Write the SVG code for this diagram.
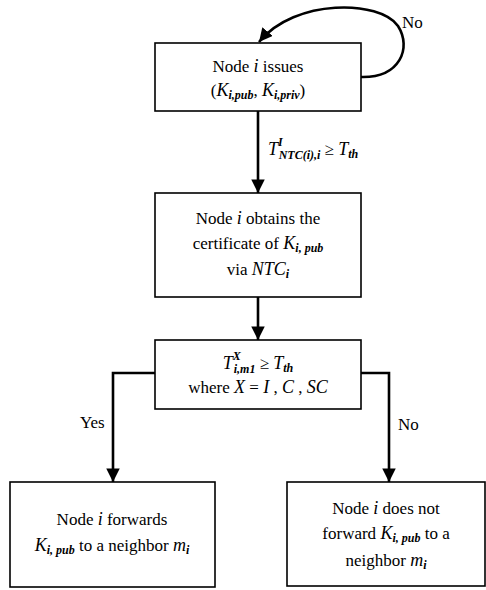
<svg xmlns="http://www.w3.org/2000/svg" width="486" height="590" viewBox="0 0 486 590">
<style>
.box{fill:#fff;stroke:#000;stroke-width:1.6}
text{font-family:'Liberation Serif','Times New Roman','DejaVu Serif',serif;font-size:17px;fill:#000}
.t{text-anchor:middle}
.m{font-style:italic;font-size:18px}
.s{font-style:italic;font-weight:bold;font-size:12px}
.c{fill:none;stroke:#000;stroke-width:2.6}
</style>
<defs>
<marker id="ah" viewBox="0 0 10 10" refX="10" refY="5" markerWidth="5.2" markerHeight="5.2" markerUnits="strokeWidth" orient="auto">
<path d="M0,0 L10,5 L0,10 Z" fill="#000"/>
</marker>
</defs>
<rect width="486" height="590" fill="#fff"/>
<g id="connectors">
<path class="c" d="M361,77 C400,78 412,48 398,26 C380,0 295,-2 259,42" marker-end="url(#ah)"/>
<path class="c" d="M258,111 V193" marker-end="url(#ah)"/>
<path class="c" d="M258,297 V340" marker-end="url(#ah)"/>
<path class="c" d="M155,373 H113 V482" marker-end="url(#ah)"/>
<path class="c" d="M361,373 H389 V482" marker-end="url(#ah)"/>
<text x="402" y="28">No</text>
<text x="268" y="155"><tspan class="m">T</tspan><tspan class="s" dy="-9">I</tspan><tspan class="s" dx="-4" dy="13">NTC(i),i</tspan><tspan dy="-4"> ≥ </tspan><tspan class="m">T</tspan><tspan class="s" dy="3">th</tspan></text>
<text x="80" y="428">Yes</text>
<text x="398" y="430">No</text>
</g>
<g id="node-issue">
<rect class="box" x="155" y="43" width="206" height="68"/>
<text class="t" x="258" y="72">Node <tspan class="m">i</tspan> issues</text>
<text class="t" x="258" y="96">(<tspan class="m">K</tspan><tspan class="s" dy="3">i,pub</tspan><tspan dy="-3">, </tspan><tspan class="m">K</tspan><tspan class="s" dy="3">i,priv</tspan><tspan dy="-3">)</tspan></text>
</g>
<g id="node-certificate">
<rect class="box" x="155" y="193" width="206" height="104"/>
<text class="t" x="258" y="224">Node <tspan class="m">i</tspan> obtains the</text>
<text class="t" x="258" y="249">certificate of  <tspan class="m">K</tspan><tspan class="s" dy="3">i, pub</tspan></text>
<text class="t" x="258" y="275">via <tspan class="m">NTC</tspan><tspan class="s" dy="3">i</tspan></text>
</g>
<g id="node-condition">
<rect class="box" x="155" y="340" width="206" height="69"/>
<text class="t" x="258" y="369"><tspan class="m">T</tspan><tspan class="s" dy="-9">X</tspan><tspan class="s" dx="-7" dy="13">i,m1</tspan><tspan dy="-4"> ≥ </tspan><tspan class="m">T</tspan><tspan class="s" dy="3">th</tspan></text>
<text class="t" x="258" y="393">where <tspan class="m">X</tspan> = <tspan class="m">I</tspan> , <tspan class="m">C</tspan> , <tspan class="m">SC</tspan></text>
</g>
<g id="node-forward">
<rect class="box" x="10" y="482" width="205" height="105"/>
<text class="t" x="112" y="525">Node <tspan class="m">i</tspan> forwards</text>
<text class="t" x="112" y="551"><tspan class="m">K</tspan><tspan class="s" dy="3">i, pub</tspan><tspan dy="-3"> to a neighbor </tspan><tspan class="m">m</tspan><tspan class="s" dy="3">i</tspan></text>
</g>
<g id="node-not-forward">
<rect class="box" x="287" y="482" width="198" height="104"/>
<text class="t" x="386" y="514">Node <tspan class="m">i</tspan> does not</text>
<text class="t" x="386" y="539">forward  <tspan class="m">K</tspan><tspan class="s" dy="3">i, pub</tspan><tspan dy="-3"> to a</tspan></text>
<text class="t" x="386" y="566">neighbor <tspan class="m">m</tspan><tspan class="s" dy="3">i</tspan></text>
</g>
</svg>
